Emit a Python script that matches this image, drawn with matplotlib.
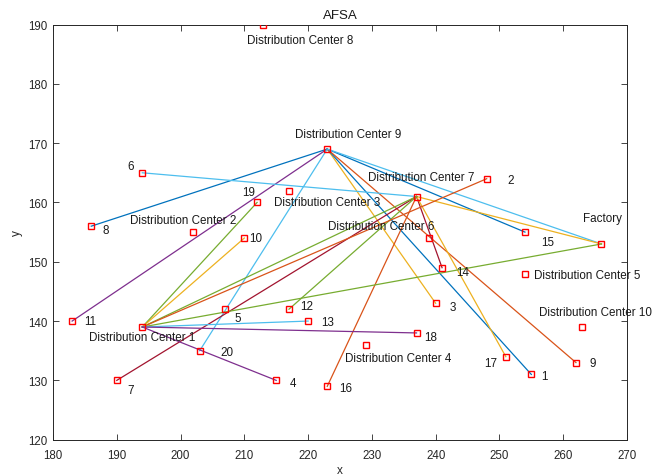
import matplotlib
matplotlib.use("Agg")
import matplotlib.pyplot as plt

plt.rcParams['font.family'] = ['Liberation Sans', 'DejaVu Sans']

# ---- data ----
node_names = ['Factory', 'Distribution Center 1', 'Distribution Center 2', 'Distribution Center 3',
              'Distribution Center 4', 'Distribution Center 5', 'Distribution Center 6',
              'Distribution Center 7', 'Distribution Center 8', 'Distribution Center 9',
              'Distribution Center 10',
              '1', '2', '3', '4', '5', '6', '7', '8', '9', '10',
              '11', '12', '13', '14', '15', '16', '17', '18', '19', '20']
node_x = [266, 194, 202, 217, 229, 254, 239, 237, 213, 223, 263,
          255, 248, 240, 215, 207, 194, 190, 186, 262, 210,
          183, 217, 220, 241, 254, 223, 251, 237, 212, 203]
node_y = [153, 139, 155, 162, 136, 148, 154, 161, 190, 169, 139,
          131, 164, 143, 130, 142, 165, 130, 156, 133, 154,
          140, 142, 140, 149, 155, 129, 134, 138, 160, 135]

routes = [
    ['Distribution Center 9', '8'],
    ['Distribution Center 9', '11'],
    ['Distribution Center 9', '20'],
    ['Distribution Center 9', '3'],
    ['Distribution Center 9', '1'],
    ['Distribution Center 9', '9'],
    ['Distribution Center 9', '15'],
    ['Distribution Center 9', 'Factory'],
    ['6', 'Distribution Center 7'],
    ['Distribution Center 7', 'Factory'],
    ['Distribution Center 7', '14'],
    ['Distribution Center 7', '17'],
    ['Distribution Center 7', '16'],
    ['Distribution Center 7', '7'],
    ['Distribution Center 7', '12'],
    ['Distribution Center 7', 'Distribution Center 1'],
    ['Distribution Center 1', '2'],
    ['Distribution Center 1', '19'],
    ['Distribution Center 1', '10'],
    ['Distribution Center 1', 'Factory'],
    ['Distribution Center 1', '13'],
    ['Distribution Center 1', '18'],
    ['Distribution Center 1', '4'],
]

x_ticks = [180, 190, 200, 210, 220, 230, 240, 250, 260, 270]
y_ticks = [120, 130, 140, 150, 160, 170, 180, 190]

# ---- styles / layout ----
BLUE, ORANGE, YELLOW, PURPLE = '#0072BD', '#D95319', '#EDB120', '#7E2F8E'
GREEN, LBLUE, DRED = '#77AC30', '#4DBEEE', '#A2142F'
route_colors = [BLUE, PURPLE, LBLUE, YELLOW, BLUE, ORANGE, BLUE, LBLUE,
                LBLUE, YELLOW, DRED, YELLOW, ORANGE, DRED, GREEN, GREEN,
                ORANGE, GREEN, YELLOW, GREEN, LBLUE, PURPLE, PURPLE]

label_offsets = {
    'Factory': (0.1, 4.4), 'Distribution Center 1': (0.0, -1.7),
    'Distribution Center 2': (-1.6, 2.05), 'Distribution Center 3': (6.0, -1.9),
    'Distribution Center 4': (5.1, -2.3), 'Distribution Center 5': (9.8, -0.2),
    'Distribution Center 6': (-7.6, 2.1), 'Distribution Center 7': (0.7, 3.25),
    'Distribution Center 8': (5.7, -2.55), 'Distribution Center 9': (3.3, 2.5),
    'Distribution Center 10': (2.1, 2.5),
    '1': (2.0, -0.2), '2': (3.8, -0.3), '3': (2.7, -0.7), '4': (2.7, -0.4),
    '5': (2.0, -1.4), '6': (-1.9, 1.2), '7': (2.2, -1.7), '8': (2.3, -0.6),
    '9': (2.6, -0.1), '10': (1.8, 0.0), '11': (2.9, 0.0), '12': (2.8, 0.6),
    '13': (3.0, -0.1), '14': (3.2, -0.8), '15': (3.6, -1.6), '16': (2.85, -0.3),
    '17': (-2.35, -1.1), '18': (2.2, -0.7), '19': (-1.3, 1.8), '20': (4.2, -0.15),
}

pos = {n: (x, y) for n, x, y in zip(node_names, node_x, node_y)}

fig = plt.figure(figsize=(6.68, 4.77), dpi=100)
ax = fig.add_axes([53 / 668, 36.3 / 477, 574 / 668, 415.2 / 477])

for r, c in zip(routes, route_colors):
    ax.plot([pos[n][0] for n in r], [pos[n][1] for n in r], color=c, lw=0.9, zorder=2)

ax.plot(node_x, node_y, 's', ls='none', mfc='none', mec='#FF0000', ms=5, mew=1.0, zorder=3)

for n in node_names:
    dx, dy = label_offsets[n]
    ax.text(pos[n][0] + dx, pos[n][1] + dy, n, ha='center', va='center',
            fontsize=8.4, color='#1a1a1a', zorder=4)

ax.set_xlim(180, 270)
ax.set_ylim(120, 190)
ax.set_xticks(x_ticks)
ax.set_yticks(y_ticks)
ax.tick_params(direction='in', length=4, width=0.6, colors='#262626',
               labelsize=8.3, top=True, right=True, labeltop=False, labelright=False)
ax.tick_params(axis='x', pad=7)
ax.tick_params(axis='y', pad=4)
for s in ax.spines.values():
    s.set_color('#262626')
    s.set_linewidth(0.7)
ax.set_title('AFSA', fontsize=9.6, color='#1a1a1a', pad=5)
ax.set_xlabel('x', fontsize=8.5, color='#262626', labelpad=2)
ax.set_ylabel('y', fontsize=8.5, color='#262626', labelpad=4)

fig.savefig('out.png', dpi=100)
